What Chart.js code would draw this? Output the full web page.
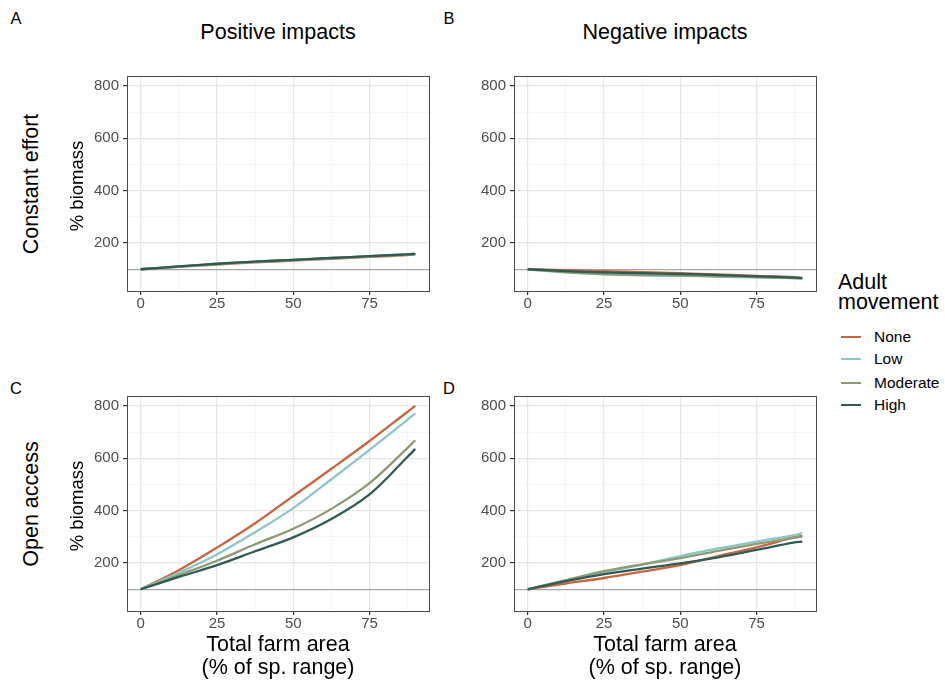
<!DOCTYPE html>
<html>
<head>
<meta charset="utf-8">
<script src="https://cdn.jsdelivr.net/npm/chart.js@4.4.1/dist/chart.umd.min.js"></script>
<style>
body { margin: 0; background: #fff; font-family: 'Liberation Sans', Arial, sans-serif; }
#fig { position: relative; width: 945px; height: 683px; overflow: hidden; background: #fff; }
#fig canvas { position: absolute; }
.t { position: absolute; white-space: nowrap; color: #000; transform: translate(-50%, -50%); line-height: 1; }
.rot { transform: translate(-50%, -50%) rotate(-90deg); }
.tag { font-size: 16.5px; }
.big { font-size: 21.5px; }
.ylab { font-size: 18.5px; }
.key { position: absolute; height: 2.2px; width: 20px; }
.keylab { position: absolute; font-size: 15.5px; transform: translateY(-50%); line-height: 1; }
</style>
</head>
<body>
<div id="fig">
  <canvas id="pA" width="355" height="252" style="left:85px;top:63px"></canvas>
  <canvas id="pB" width="355" height="252" style="left:472px;top:63px"></canvas>
  <canvas id="pC" width="355" height="252" style="left:85px;top:383px"></canvas>
  <canvas id="pD" width="355" height="252" style="left:472px;top:383px"></canvas>

  <div class="t tag" style="left:16px;top:18px">A</div>
  <div class="t tag" style="left:449px;top:18px">B</div>
  <div class="t tag" style="left:16px;top:388px">C</div>
  <div class="t tag" style="left:449px;top:388px">D</div>

  <div class="t big" style="left:278px;top:33px">Positive impacts</div>
  <div class="t big" style="left:665px;top:33px">Negative impacts</div>

  <div class="t big rot" style="left:32px;top:184px">Constant effort</div>
  <div class="t big rot" style="left:32px;top:504px">Open access</div>
  <div class="t ylab rot" style="left:77px;top:186px">% biomass</div>
  <div class="t ylab rot" style="left:77px;top:506px">% biomass</div>

  <div class="t big" style="left:278px;top:645px">Total farm area</div>
  <div class="t big" style="left:278px;top:668px">(% of sp. range)</div>
  <div class="t big" style="left:665px;top:645px">Total farm area</div>
  <div class="t big" style="left:665px;top:668px">(% of sp. range)</div>

  <div id="legend"></div>
</div>
<script>
// x values (total farm area, % of species range)
const farmArea = [0, 12.5, 25, 37.5, 50, 62.5, 75, 87.5, 90];
const movement = ['None', 'Low', 'Moderate', 'High'];
const movementColors = ['#c8653e', '#8cc6c9', '#8b9b73', '#2f5b55'];

// A: constant effort, positive impacts
const effortPosNone = [100, 109, 118, 126, 133, 140, 147, 154, 157];
const effortPosLow = [100, 110, 120, 128, 135, 142, 149, 156, 158];
const effortPosModerate = [100, 111, 121, 129, 136, 143, 150, 157, 159];
const effortPosHigh = [100, 111, 121, 129, 136, 143, 150, 157, 159];
// B: constant effort, negative impacts
const effortNegNone = [100, 97, 93, 89, 85, 80, 75, 70, 67];
const effortNegLow = [100, 88, 81, 77, 75, 72, 69, 66, 65];
const effortNegModerate = [100, 89, 82, 78, 76, 73, 70, 66, 65];
const effortNegHigh = [100, 93, 88, 85, 82, 78, 73, 68, 66];
// C: open access, positive impacts
const openPosNone = [100, 173, 259, 352, 456, 560, 666, 778, 800];
const openPosLow = [100, 163, 233, 318, 410, 520, 632, 748, 772];
const openPosModerate = [100, 154, 209, 272, 331, 407, 505, 640, 669];
const openPosHigh = [100, 147, 192, 245, 298, 368, 462, 606, 636];
// D: open access, negative impacts
const openNegNone = [100, 122, 143, 167, 192, 227, 260, 299, 304];
const openNegLow = [100, 133, 165, 194, 227, 256, 282, 307, 314];
const openNegModerate = [100, 135, 169, 195, 219, 247, 273, 297, 301];
const openNegHigh = [100, 131, 158, 179, 199, 222, 250, 279, 282];

// axis breaks
const xTicks = [0, 12.5, 25, 37.5, 50, 62.5, 75, 87.5];
const xMajor = [0, 25, 50, 75];
const yTicks = [100, 200, 300, 400, 500, 600, 700, 800];
const yMajor = [200, 400, 600, 800];
const refLine = 100;

Chart.defaults.font.family = "'Liberation Sans', Arial, sans-serif";

const panelBorder = {
  id: 'panelBorder',
  afterDraw(chart) {
    const a = chart.chartArea, c = chart.ctx;
    c.save();
    c.strokeStyle = '#4a4a4a';
    c.lineWidth = 1;
    c.strokeRect(Math.round(a.left) + 0.5, Math.round(a.top) + 0.5,
      Math.round(a.right - a.left), Math.round(a.bottom - a.top));
    c.restore();
  }
};

function gridColor(major, ref) {
  return function (c) {
    if (!c.tick) return 'rgba(0,0,0,0)';
    if (ref !== undefined && c.tick.value === ref) return '#a6a6a6';
    return major.includes(c.tick.value) ? '#e6e6e6' : '#f0f0f0';
  };
}
function gridWidth(major, ref) {
  return function (c) {
    if (!c.tick) return 1;
    if (ref !== undefined && c.tick.value === ref) return 1.3;
    return major.includes(c.tick.value) ? 1.2 : 0.7;
  };
}
function tickColor(major) {
  return function (c) {
    return c.tick && major.includes(c.tick.value) ? '#333' : 'rgba(0,0,0,0)';
  };
}

function makePanel(id, series) {
  new Chart(document.getElementById(id), {
    type: 'line',
    data: {
      datasets: series.map((s, i) => ({
        label: movement[i],
        data: s.map((v, j) => ({ x: farmArea[j], y: v })),
        borderColor: movementColors[i],
        borderWidth: 2.3,
        pointRadius: 0,
        fill: false,
        tension: 0.35,
        order: series.length - i
      }))
    },
    options: {
      responsive: false,
      animation: false,
      events: [],
      layout: { padding: { top: 8, right: 11, left: 0, bottom: 0 } },
      plugins: { legend: { display: false }, tooltip: { enabled: false } },
      scales: {
        x: {
          type: 'linear', min: -4.5, max: 94.5,
          afterBuildTicks: s => { s.ticks = xTicks.map(v => ({ value: v })); },
          afterFit: s => { s.height = 24; },
          ticks: {
            autoSkip: false, maxRotation: 0, padding: 0,
            color: '#4d4d4d', font: { size: 15 },
            callback: v => xMajor.includes(v) ? String(v) : ''
          },
          grid: { color: gridColor(xMajor), lineWidth: gridWidth(xMajor), tickLength: 4, tickColor: tickColor(xMajor) },
          border: { display: false }
        },
        y: {
          type: 'linear', min: 17, max: 838,
          afterBuildTicks: s => { s.ticks = yTicks.map(v => ({ value: v })); },
          afterFit: s => { s.width = 42; },
          ticks: {
            autoSkip: false, padding: 4,
            color: '#4d4d4d', font: { size: 15 },
            callback: v => yMajor.includes(v) ? String(v) : ''
          },
          grid: { color: gridColor(yMajor, refLine), lineWidth: gridWidth(yMajor, refLine), tickLength: 4, tickColor: tickColor(yMajor) },
          border: { display: false }
        }
      }
    },
    plugins: [panelBorder]
  });
}

makePanel('pA', [effortPosNone, effortPosLow, effortPosModerate, effortPosHigh]);
makePanel('pB', [effortNegNone, effortNegLow, effortNegModerate, effortNegHigh]);
makePanel('pC', [openPosNone, openPosLow, openPosModerate, openPosHigh]);
makePanel('pD', [openNegNone, openNegLow, openNegModerate, openNegHigh]);

// shared legend
const legend = document.getElementById('legend');
let html = '<div class="t big" style="left:838px;top:283px;transform:translateY(-50%)">Adult</div>' +
           '<div class="t big" style="left:838px;top:303px;transform:translateY(-50%)">movement</div>';
const keyY = [337, 359, 383, 405];
movement.forEach((m, i) => {
  html += '<div class="key" style="left:841px;top:' + (keyY[i] - 1) + 'px;background:' + movementColors[i] + '"></div>';
  html += '<div class="keylab" style="left:874px;top:' + keyY[i] + 'px">' + m + '</div>';
});
legend.innerHTML = html;
</script>
</body>
</html>
